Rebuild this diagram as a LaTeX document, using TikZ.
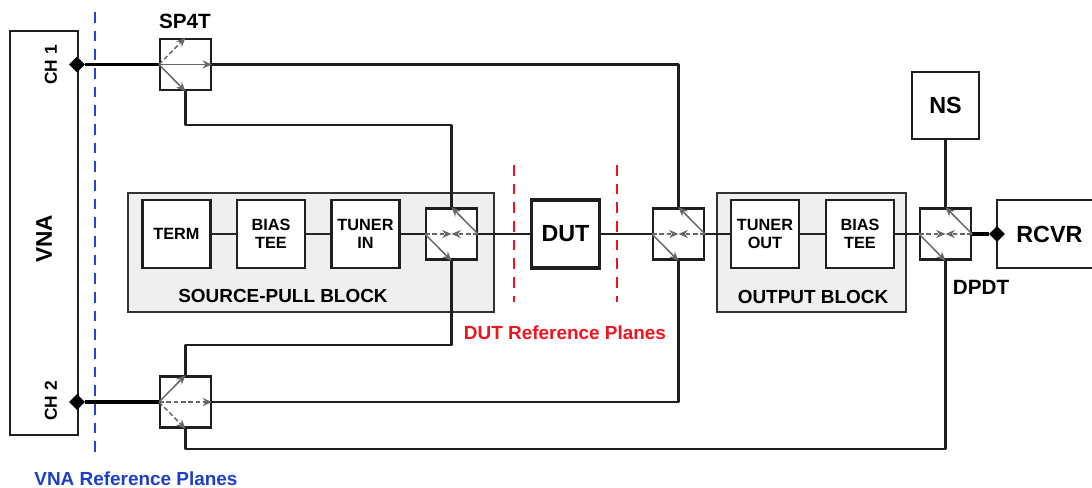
\documentclass[tikz,border=0pt]{standalone}
\usepackage{fontspec}
\setmainfont{Liberation Sans}
\usetikzlibrary{arrows.meta,shapes.geometric}
\definecolor{blockgray}{HTML}{EFEFEF}
\definecolor{wiregray}{HTML}{666666}
\definecolor{refblue}{HTML}{1F45D8}
\definecolor{refblueT}{HTML}{1C3FC4}
\definecolor{refred}{HTML}{F0141E}
\tikzset{
  wire/.style={line width=1.8pt,draw=black!88,line join=round},
  thinwire/.style={line width=1.3pt,draw=black!85},
  thickwire/.style={line width=2.5pt,draw=black},
  boxn/.style={draw=black!88,line width=1.8pt,fill=white,inner sep=0pt,align=center,font=\fontsize{12.2}{13.5}\selectfont\bfseries},
  bigboxn/.style={boxn,font=\fontsize{17.5}{20}\selectfont\bfseries},
  blockn/.style={draw=black!80,line width=1.3pt,fill=blockgray,inner sep=0pt},
  swbox/.style={draw=black!88,line width=1.8pt,fill=white,minimum width=38pt,minimum height=38.5pt,inner sep=0pt},
  junction/.style={diamond,fill=black,inner sep=0pt,minimum width=12pt,minimum height=12pt},
  lbl/.style={font=\fontsize{14.2}{16}\selectfont\bfseries,inner sep=0pt},
  solidarm/.style={line width=1.1pt,draw=wiregray,-{Stealth[length=7pt,width=6pt]}},
  dasharm/.style={solidarm,dash pattern=on 3.5pt off 2pt},
  bluedash/.style={line width=1.7pt,draw=refblue,dash pattern=on 8pt off 6pt},
  reddash/.style={line width=1.8pt,draw=refred,dash pattern=on 8pt off 6pt},
}
\newcommand{\dpdtarms}[1]{%
  \draw[dasharm] (#1.west) -- (#1.center);
  \draw[dasharm] (#1.east) -- (#1.center);
  \draw[solidarm] (#1.west) -- (#1.south);
  \draw[solidarm] (#1.east) -- (#1.north);
}
\begin{document}
\begin{tikzpicture}[x=0.75pt,y=-0.75pt]
\useasboundingbox (0,0) rectangle (1092,487);
\clip (0,0) rectangle (1092,487);
% grey blocks
\node[blockn,minimum width=274.5pt,minimum height=89pt] (srcblock) at (311,252.5) {};
\node[blockn,minimum width=141.5pt,minimum height=89pt] (outblock) at (811.5,252.5) {};
\node[lbl] (srclabel) at (283,296) {SOURCE-PULL BLOCK};
\node[lbl] (outlabel) at (813,297) {OUTPUT BLOCK};
% VNA and channels
\node[boxn,minimum width=51pt,minimum height=303pt] (vna) at (44,233) {};
\node[lbl,rotate=90,font=\fontsize{17}{20}\selectfont\bfseries] (vnalabel) at (44,239) {VNA};
\node[lbl,rotate=90,font=\fontsize{13}{15}\selectfont\bfseries] (ch1) at (51,65) {CH 1};
\node[lbl,rotate=90,font=\fontsize{13}{15}\selectfont\bfseries] (ch2) at (51,401) {CH 2};
% switches
\node[swbox] (spa) at (185.5,64.5) {};
\node[swbox] (spb) at (185.5,402) {};
\node[swbox] (swl) at (451.5,234) {};
\node[swbox] (swr) at (678.5,234) {};
\node[swbox] (swo) at (945.5,234) {};
% boxes
\node[boxn,minimum width=51pt,minimum height=51pt] (term) at (176.5,234) {TERM};
\node[boxn,minimum width=51pt,minimum height=51pt] (btl) at (271,234) {BIAS\\TEE};
\node[boxn,minimum width=51pt,minimum height=51pt] (tin) at (365.5,234) {TUNER\\IN};
\node[bigboxn,minimum width=51pt,minimum height=51pt,line width=2.6pt] (dut) at (565.5,234) {DUT};
\node[boxn,minimum width=51pt,minimum height=51pt] (tout) at (765,234) {TUNER\\OUT};
\node[boxn,minimum width=51pt,minimum height=51pt] (btr) at (860,234) {BIAS\\TEE};
\node[bigboxn,minimum width=50pt,minimum height=50pt] (ns) at (945.5,105.5) {NS};
\node[bigboxn,minimum width=90pt,minimum height=51pt,text width=84pt,align=left] (rcvr) at (1057,234) {\hspace*{11.5pt}RCVR};
% junction anchors
\node[junction] (ja) at (77,64.5) {};
\node[junction] (jb) at (77,402) {};
\node[junction] (jc) at (997,234) {};
% reference planes
\coordinate (bluetop) at (95,12);
\coordinate (bluebot) at (95,456);
\coordinate (redatop) at (514,165);
\coordinate (redabot) at (514,302);
\coordinate (redbtop) at (617,165);
\coordinate (redbbot) at (617,302);
% wires
\draw[thickwire] (ja) -- (spa.west);
\draw[thickwire] (jb) -- (spb.west);
\draw[thickwire] (swo.east) -- (jc);
\draw[wire] (spa.east) -| (swr.north);
\draw[wire] (spa.south) |- (swl.north |- 0,125) -- (swl.north);
\draw[wire] (swl.south) |- (spb.north |- 0,345) -- (spb.north);
\draw[wire] (spb.east) -| (swr.south);
\draw[wire] (spb.south) |- (swo.south |- 0,449) -- (swo.south);
\draw[wire] (ns.south) -- (swo.north);
\draw[thinwire] (term) -- (btl);
\draw[thinwire] (btl) -- (tin);
\draw[wire] (tin) -- (swl);
\draw[wire] (swl) -- (dut);
\draw[wire] (dut) -- (swr);
\draw[wire] (swr) -- (tout);
\draw[thinwire] (tout) -- (btr);
\draw[wire] (btr) -- (swo);
% switch arms
\draw[solidarm] (spa.west) -- (spa.east);
\draw[dasharm] (spa.west) -- (spa.north);
\draw[solidarm] (spa.west) -- (spa.south);
\draw[dasharm] (spb.west) -- (spb.east);
\draw[solidarm] (spb.west) -- (spb.north);
\draw[dasharm] (spb.west) -- (spb.south);
\dpdtarms{swl}
\dpdtarms{swr}
\dpdtarms{swo}
% dashed planes
\draw[bluedash] (bluetop) -- (bluebot);
\draw[reddash] (redatop) -- (redabot);
\draw[reddash] (redbtop) -- (redbbot);
% labels
\node[lbl,font=\fontsize{15.5}{18}\selectfont\bfseries] (sp4t) at (185,21.5) {SP4T};
\node[lbl,font=\fontsize{15.5}{18}\selectfont\bfseries] (dpdt) at (981,287.5) {DPDT};
\node[lbl,text=refred] (dutref) at (565,333) {DUT Reference Planes};
\node[lbl,text=refblueT] (vnaref) at (136,479) {VNA Reference Planes};
\end{tikzpicture}
\end{document}
